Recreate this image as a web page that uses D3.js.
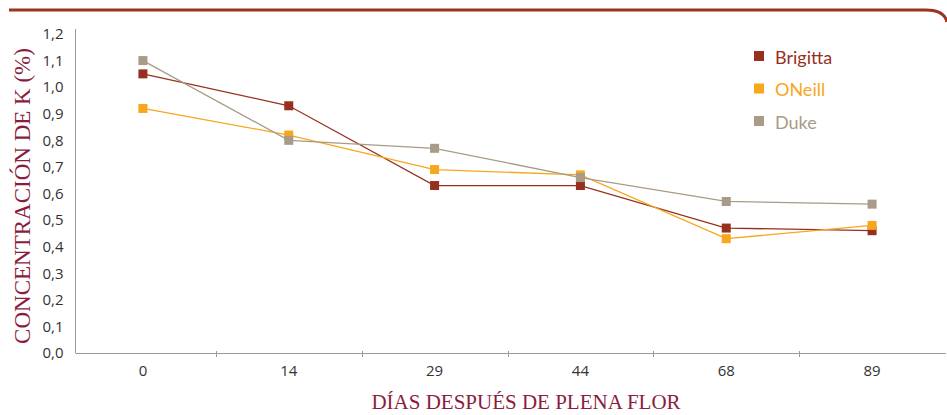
<!DOCTYPE html>
<html>
<head>
<meta charset="utf-8">
<script src="https://cdn.jsdelivr.net/npm/d3@7"></script>
<style>
  body { margin: 0; background: #fff; }
  svg { display: block; }
  .tick text { font-family: "Open Sans", sans-serif; font-size: 15px; fill: #333; }
  .axis-title { font-family: "Liberation Serif", "DejaVu Serif", serif; fill: #8c1c3c; }
  .legend text { font-family: Lato, sans-serif; font-size: 18px; }
</style>
</head>
<body>
<svg id="chart" width="947" height="415"></svg>
<script>
// days after full bloom
var days = ["0", "14", "29", "44", "68", "89"];
var brigitta = [1.05, 0.93, 0.63, 0.63, 0.47, 0.46];
var oneill   = [0.92, 0.82, 0.69, 0.67, 0.43, 0.48];
var duke     = [1.10, 0.80, 0.77, 0.66, 0.57, 0.56];
var seriesNames = ["Brigitta", "ONeill", "Duke"];
var yTicks = [0, 0.1, 0.2, 0.3, 0.4, 0.5, 0.6, 0.7, 0.8, 0.9, 1.0, 1.1, 1.2];

var colors = { "Brigitta": "#98301f", "ONeill": "#f8a61c", "Duke": "#a89b88" };
var series = [
  { name: "Brigitta", values: brigitta },
  { name: "ONeill", values: oneill },
  { name: "Duke", values: duke }
];

var svg = d3.select("#chart");

var x = d3.scaleBand().domain(days).range([70, 945]);
var y = d3.scaleLinear().domain([0, 1.2]).range([353, 34]);
var fmt = function(v) { return d3.format(".1f")(v).replace(".", ","); };

// top decorative rule with rounded corner
svg.append("path")
  .attr("d", "M9,10 L926,10 Q944,10 947,22")
  .attr("fill", "none")
  .attr("stroke", "#9a3322")
  .attr("stroke-width", 3);

// y axis
var yAxis = svg.append("g")
  .attr("transform", "translate(75.5,0)")
  .call(d3.axisLeft(y).tickValues(yTicks).tickFormat(fmt).tickSize(0).tickPadding(12));
yAxis.select(".domain").remove();
svg.append("line")
  .attr("x1", 75.5).attr("x2", 75.5).attr("y1", 29).attr("y2", 353)
  .attr("stroke", "#9a9a9a");

// x axis
var xAxis = svg.append("g")
  .attr("transform", "translate(0,353.5)")
  .call(d3.axisBottom(x).tickSize(0).tickPadding(12));
xAxis.select(".domain").remove();
svg.append("line")
  .attr("x1", 75.5).attr("x2", 946).attr("y1", 353.5).attr("y2", 353.5)
  .attr("stroke", "#9a9a9a");
// tick marks between categories
svg.append("g").selectAll("line")
  .data(days.slice(1))
  .join("line")
  .attr("x1", function(d) { return Math.round(x(d)) + 0.5; })
  .attr("x2", function(d) { return Math.round(x(d)) + 0.5; })
  .attr("y1", 351).attr("y2", 357)
  .attr("stroke", "#9a9a9a");

// series
var line = d3.line()
  .x(function(d, i) { return x(days[i]) + x.bandwidth() / 2; })
  .y(function(d) { return y(d); });

var g = svg.append("g").selectAll("g")
  .data(series)
  .join("g");

g.append("path")
  .attr("d", function(d) { return line(d.values); })
  .attr("fill", "none")
  .attr("stroke", function(d) { return colors[d.name]; })
  .attr("stroke-width", 1.3);

g.selectAll("rect")
  .data(function(d) { return d.values.map(function(v, i) { return { v: v, i: i, name: d.name }; }); })
  .join("rect")
  .attr("x", function(d) { return x(days[d.i]) + x.bandwidth() / 2 - 4.5; })
  .attr("y", function(d) { return y(d.v) - 4.5; })
  .attr("width", 9).attr("height", 9)
  .attr("fill", function(d) { return colors[d.name]; });

// legend
var legend = svg.append("g").attr("class", "legend")
  .selectAll("g")
  .data(seriesNames)
  .join("g")
  .attr("transform", function(d, i) { return "translate(754," + (51 + i * 32.5) + ")"; });
legend.append("rect")
  .attr("width", 10).attr("height", 10)
  .attr("fill", function(d) { return colors[d]; });
legend.append("text")
  .attr("x", 21).attr("y", 12.5)
  .attr("fill", function(d) { return colors[d]; })
  .text(function(d) { return d; });

// axis titles
svg.append("text")
  .attr("class", "axis-title")
  .attr("x", 526).attr("y", 409)
  .attr("text-anchor", "middle")
  .style("font-size", "21px")
  .text("DÍAS DESPUÉS DE PLENA FLOR");

svg.append("text")
  .attr("class", "axis-title")
  .attr("transform", "translate(30,196) rotate(-90)")
  .attr("text-anchor", "middle")
  .style("font-size", "23px")
  .text("CONCENTRACIÓN DE K (%)");
</script>
</body>
</html>
